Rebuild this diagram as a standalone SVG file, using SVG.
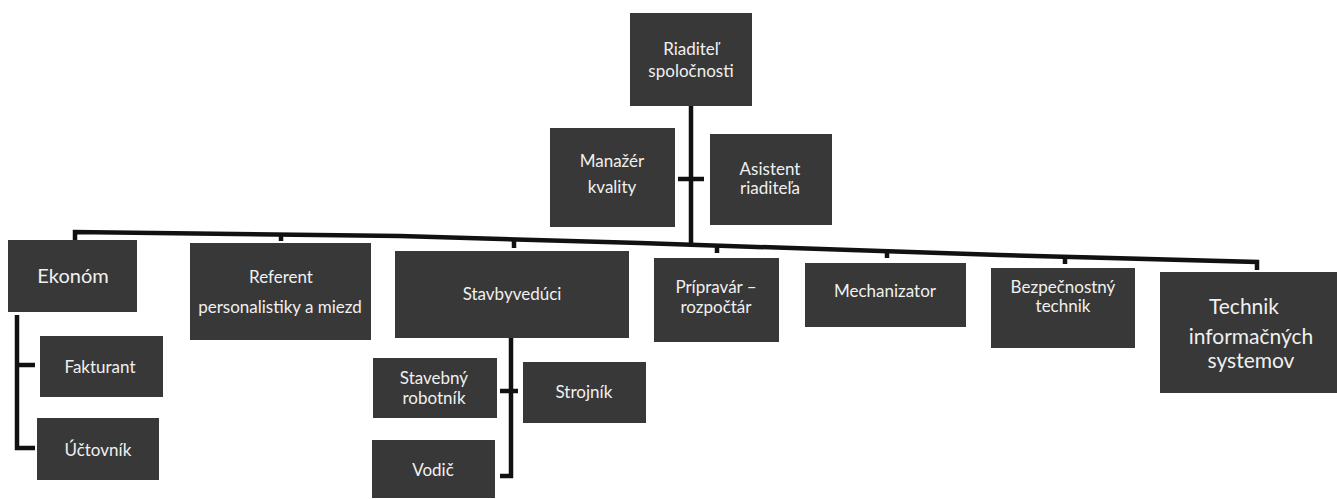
<svg xmlns="http://www.w3.org/2000/svg" width="1337" height="499" viewBox="0 0 1337 499">
<style>
.box{fill:#383838;}
.t{fill:#f0f0f0;font-family:Lato,"Open Sans","Liberation Sans",sans-serif;font-size:17px;text-anchor:middle;}
.big{font-size:20px;}
.xl{font-size:21px;}
.ln{fill:none;stroke:#111;stroke-width:4.5;stroke-linejoin:miter;}
</style>
<rect width="1337" height="499" fill="#ffffff"/>
<g id="connectors">
<polyline class="ln" points="691,106 691,246"/>
<polyline class="ln" points="678,179 704,179"/>
<polyline class="ln" points="75,240 75,232 400,236 640,243 1000,255 1257,262 1257,270"/>
<polyline class="ln" points="281,235 281,241"/>
<polyline class="ln" points="514,240 514,248"/>
<polyline class="ln" points="717,246 717,253"/>
<polyline class="ln" points="887,251 887,258"/>
<polyline class="ln" points="1065,257 1065,264"/>
<polyline class="ln" points="17,315 17,448 35,448"/>
<polyline class="ln" points="17,365 35,365"/>
<polyline class="ln" points="511,338 511,476 500,476"/>
<polyline class="ln" points="500,391 518,391"/>
</g>
<g id="n-riaditel"><rect class="box" x="630" y="13" width="122" height="93"/><text class="t" x="691" y="55">Riaditeľ</text><text class="t" x="691" y="77">spoločnosti</text></g>
<g id="n-manazer"><rect class="box" x="550" y="128" width="125" height="99"/><text class="t" x="612" y="167">Manažér</text><text class="t" x="612" y="193">kvality</text></g>
<g id="n-asistent"><rect class="box" x="710" y="134" width="122" height="91"/><text class="t" x="770" y="175">Asistent</text><text class="t" x="770" y="194">riaditeľa</text></g>
<g id="n-ekonom"><rect class="box" x="8" y="240" width="129" height="72"/><text class="t big" x="73" y="283">Ekonóm</text></g>
<g id="n-referent"><rect class="box" x="190" y="243" width="181" height="97"/><text class="t" x="281" y="283">Referent</text><text class="t" x="280" y="313">personalistiky a miezd</text></g>
<g id="n-stavbyveduci"><rect class="box" x="395" y="251" width="234" height="87"/><text class="t" x="512" y="300">Stavbyvedúci</text></g>
<g id="n-pripravar"><rect class="box" x="654" y="258" width="125" height="84"/><text class="t" x="716" y="293">Prípravár –</text><text class="t" x="716" y="313">rozpočtár</text></g>
<g id="n-mechanizator"><rect class="box" x="805" y="263" width="161" height="64"/><text class="t" x="885" y="297">Mechanizator</text></g>
<g id="n-bezpecnostny"><rect class="box" x="991" y="268" width="144" height="80"/><text class="t" x="1063" y="293">Bezpečnostný</text><text class="t" x="1063" y="312">technik</text></g>
<g id="n-technik"><rect class="box" x="1160" y="272" width="177" height="121"/><text class="t xl" x="1244" y="314">Technik</text><text class="t xl" x="1251" y="344">informačných</text><text class="t xl" x="1251" y="368">systemov</text></g>
<g id="n-fakturant"><rect class="box" x="40" y="336" width="123" height="61"/><text class="t" x="100" y="373">Fakturant</text></g>
<g id="n-uctovnik"><rect class="box" x="37" y="418" width="122" height="62"/><text class="t" x="98" y="456">Účtovník</text></g>
<g id="n-stavebny"><rect class="box" x="373" y="358" width="124" height="60"/><text class="t" x="434" y="384">Stavebný</text><text class="t" x="434" y="404">robotník</text></g>
<g id="n-strojnik"><rect class="box" x="523" y="362" width="123" height="61"/><text class="t" x="584" y="398">Strojník</text></g>
<g id="n-vodic"><rect class="box" x="372" y="440" width="123" height="58"/><text class="t" x="433" y="476">Vodič</text></g>
</svg>
